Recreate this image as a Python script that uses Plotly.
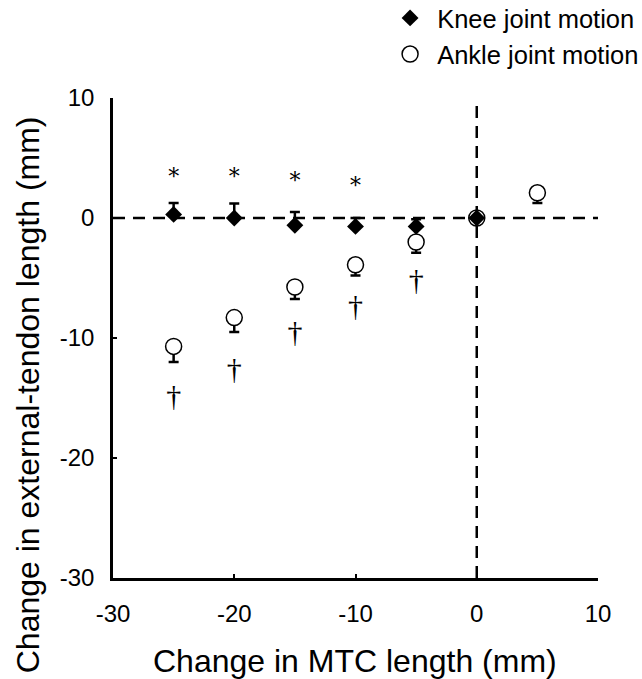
import plotly.graph_objects as go

# Data
knee_x = [-25, -20, -15, -10, -5, 0]
knee_y = [0.3, 0.0, -0.6, -0.7, -0.7, 0.0]
knee_sd = [0.95, 1.2, 1.1, 0.7, 0.6, 0.0]

ankle_x = [-25, -20, -15, -10, -5, 0, 5]
ankle_y = [-10.7, -8.3, -5.75, -3.9, -2.0, 0.0, 2.1]
ankle_sd = [1.3, 1.2, 1.0, 0.9, 0.9, 0.0, 0.85]

ast_x = [-25, -20, -15, -10]
ast_y = [3.3, 3.3, 2.95, 2.55]

dag_x = [-25, -20, -15, -10, -5]
dag_y = [-15.0, -12.8, -9.7, -7.5, -5.4]

x_ticks = [-30, -20, -10, 0, 10]
x_ticktext = ["-30", "-20", "-10", "0", "10"]
y_ticks = [-30, -20, -10, 0, 10]
y_ticktext = ["-30", "-20", "-10", "0", "10"]

x_title = "Change in MTC length (mm)"
y_title = "Change in external-tendon length (mm)"

FONT = "Liberation Sans, Arial"

fig = go.Figure()

fig.add_trace(go.Scatter(
    x=ankle_x, y=ankle_y, mode="markers", name="\u00a0Ankle joint motion",
    legendrank=2,
    marker=dict(symbol="circle", size=16, color="white",
                line=dict(color="black", width=1.5)),
    error_y=dict(type="data", symmetric=False, array=[0]*len(ankle_sd),
                 arrayminus=ankle_sd, color="black", thickness=2.5, width=5),
))
fig.add_trace(go.Scatter(
    x=knee_x, y=knee_y, mode="markers", name="\u00a0Knee joint motion",
    legendrank=1,
    marker=dict(symbol="diamond", size=13, color="black",
                line=dict(color="black", width=0)),
    error_y=dict(type="data", symmetric=False, array=knee_sd,
                 arrayminus=[0]*len(knee_sd), color="black", thickness=2.5, width=5),
))

fig.add_trace(go.Scatter(
    x=ast_x, y=ast_y, mode="text", text=["*"]*len(ast_x), showlegend=False,
    textfont=dict(family="DejaVu Serif", size=22, color="black"),
    hoverinfo="skip",
))
fig.add_trace(go.Scatter(
    x=dag_x, y=dag_y, mode="text", text=["†"]*len(dag_x), showlegend=False,
    textfont=dict(family="Liberation Serif", size=30, color="black"),
    hoverinfo="skip",
))

# dashed reference lines
fig.add_shape(type="line", xref="x", yref="y", x0=x_ticks[0], x1=x_ticks[-1], y0=0, y1=0,
              line=dict(color="black", width=2.5, dash="12px,8px"), layer="below")
fig.add_shape(type="line", xref="x", yref="y", x0=0, x1=0, y0=y_ticks[0], y1=y_ticks[-1],
              line=dict(color="black", width=2.5, dash="12px,8px"), layer="below")

axis_common = dict(showgrid=False, zeroline=False, showline=True, linecolor="black",
                   linewidth=2.5, ticks="inside", ticklen=4, tickwidth=2, tickcolor="black",
                   tickfont=dict(family=FONT, size=24, color="black"))

fig.update_xaxes(range=[-30, 10], tickvals=x_ticks, ticktext=x_ticktext,
                 ticklabelstandoff=12, **axis_common)
fig.update_yaxes(range=[-30, 10], tickvals=y_ticks, ticktext=y_ticktext,
                 ticklabelstandoff=11, **axis_common)

fig.add_annotation(text=x_title, xref="paper", yref="paper", x=0.499, y=-0.173,
                   xanchor="center", yanchor="middle", showarrow=False,
                   font=dict(family=FONT, size=32, color="black"))
fig.add_annotation(text=y_title, xref="paper", yref="paper", x=-0.175, y=0.381,
                   xanchor="center", yanchor="middle", showarrow=False, textangle=-90,
                   font=dict(family=FONT, size=32, color="black"))

fig.update_layout(
    width=642, height=679,
    margin=dict(l=113, r=44, t=98, b=101, autoexpand=False),
    plot_bgcolor="white", paper_bgcolor="white",
    legend=dict(x=1.095, y=1.215, xref="paper", yref="paper", xanchor="right", yanchor="top",
                font=dict(family=FONT, size=25.5, color="black"),
                itemsizing="trace", tracegroupgap=0, bgcolor="rgba(0,0,0,0)",
                itemwidth=30),
    showlegend=True,
)

fig.write_html("out.html")
